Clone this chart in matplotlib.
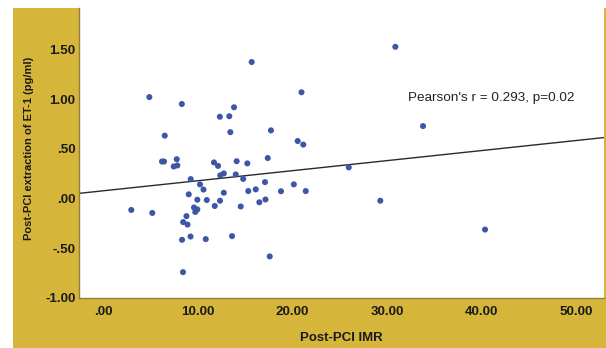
import numpy as np
import matplotlib
matplotlib.use("Agg")
import matplotlib.pyplot as plt
from matplotlib.patches import Rectangle

# ---- data ----
imr = [2.93, 5.15, 4.84, 6.47, 6.18, 6.39, 7.74, 7.42, 7.80, 8.28,
       9.22, 10.20, 10.57, 9.01, 9.92, 10.92, 9.57, 9.92, 9.70, 8.77,
       8.42, 8.88, 8.30, 9.20, 10.81, 8.40, 11.68, 12.11, 12.30, 13.30,
       13.80, 13.41, 12.34, 12.72, 11.76, 12.32, 12.72, 14.08, 15.21, 13.98,
       14.77, 14.51, 13.59, 15.31, 16.10, 16.48, 17.13, 17.08, 17.37, 15.67,
       17.71, 17.58, 18.77, 20.13, 21.39, 20.94, 20.54, 21.13, 25.94, 29.28,
       30.87, 33.80, 40.36]
et1 = [-0.115, -0.145, 1.02, 0.632, 0.372, 0.372, 0.395, 0.322, 0.332, 0.95,
       0.195, 0.142, 0.09, 0.042, -0.012, -0.015, -0.09, -0.11, -0.135, -0.177,
       -0.237, -0.262, -0.415, -0.382, -0.408, -0.74, 0.363, 0.328, 0.822, 0.827,
       0.917, 0.667, 0.233, 0.252, -0.075, -0.022, 0.058, 0.375, 0.353, 0.242,
       0.197, -0.08, -0.378, 0.075, 0.092, -0.038, -0.01, 0.165, 0.407, 1.372,
       0.685, -0.582, 0.073, 0.142, 0.075, 1.068, 0.578, 0.542, 0.313, -0.022,
       1.525, 0.728, -0.312]
# fitted regression line shown in the reference
fit_intercept = 0.078
fit_slope = 0.0101

xticks = [0, 10, 20, 30, 40, 50]
xticklabels = [".00", "10.00", "20.00", "30.00", "40.00", "50.00"]
yticks = [-1.0, -0.5, 0.0, 0.5, 1.0, 1.5]
yticklabels = ["-1.00", "-.50", ".00", ".50", "1.00", "1.50"]
annot = "Pearson's r = 0.293, p=0.02"

GOLD = "#D6B63A"
BLUE = "#3D57A6"

plt.rcParams['font.family'] = ['Liberation Sans', 'DejaVu Sans']

W, H = 606, 348
fig = plt.figure(figsize=(W / 100, H / 100), dpi=100)
fig.patch.set_facecolor("white")

# gold frame
fig.patches.append(Rectangle((13 / W, 0), (W - 13) / W, (H - 8) / H,
                             transform=fig.transFigure, facecolor=GOLD,
                             edgecolor="none", zorder=0))

L, R, T, B = 79, 604, 8, 298
ax = fig.add_axes([L / W, (H - B) / H, (R - L) / W, (B - T) / H])
ax.set_facecolor("white")
ax.set_zorder(1)

x = np.array(imr)
y = np.array(et1)
ax.scatter(x, y, s=19, color=BLUE, edgecolors="none", zorder=3)

xlim = (-2.603, 52.95)
ax.set_xlim(*xlim)
ax.set_ylim(-0.985, 1.915)

xs = np.array(xlim)
ax.plot(xs, fit_intercept + fit_slope * xs, color="#2a2a2a", lw=1.0, zorder=2)

ax.text(32.18, 1.012, annot, fontsize=9.7, color="#222222", va="center", ha="left")

ax.set_xticks(xticks)
ax.set_xticklabels(xticklabels, fontsize=9.6, fontweight="bold", color="#1a1a1a")
ax.set_yticks(yticks)
ax.set_yticklabels(yticklabels, fontsize=9.6, fontweight="bold", color="#1a1a1a")
ax.tick_params(axis="both", length=0)
ax.tick_params(axis="x", pad=5.5)
ax.tick_params(axis="y", pad=2.5)

for s in ["top", "right"]:
    ax.spines[s].set_visible(False)
for s in ["left", "bottom"]:
    ax.spines[s].set_color("#8f7f3a")
    ax.spines[s].set_linewidth(1.0)

ax.set_xlabel("Post-PCI IMR", fontsize=9.5, fontweight="bold", color="#1a1a1a")
ax.xaxis.set_label_coords(0.5, -0.137)
ax.xaxis.label.set_va("center")
ax.set_ylabel("Post-PCI extraction of ET-1 (pg/ml)", fontsize=8, fontweight="bold",
              color="#1a1a1a")
ax.yaxis.set_label_coords(-0.095, 0.517)
ax.yaxis.label.set_va("center")

fig.savefig("out.png", dpi=100, facecolor=fig.get_facecolor())
